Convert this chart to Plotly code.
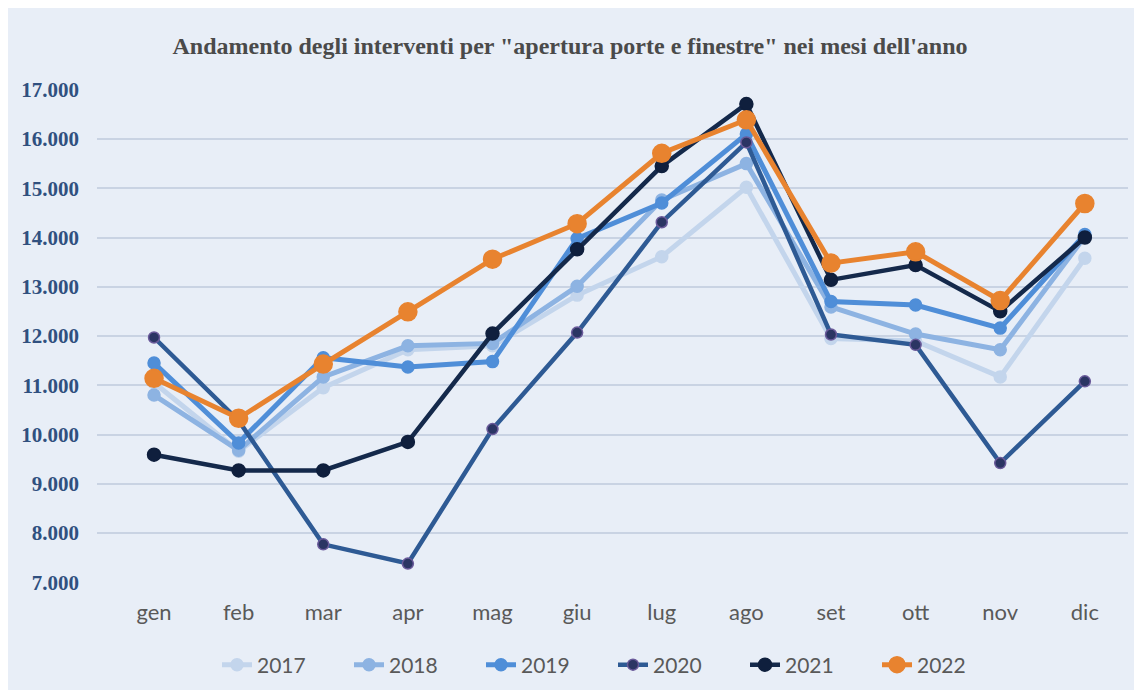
import plotly.graph_objects as go

months = ["gen", "feb", "mar", "apr", "mag", "giu", "lug", "ago", "set", "ott", "nov", "dic"]
years = ["2017", "2018", "2019", "2020", "2021", "2022"]

v2017 = [11050, 9660, 10950, 11720, 11800, 12830, 13610, 15020, 11950, 11900, 11170, 13580]
v2018 = [10800, 9680, 11170, 11800, 11850, 13010, 14760, 15500, 12590, 12040, 11720, 14020]
v2019 = [11450, 9830, 11560, 11370, 11480, 13980, 14700, 16100, 12700, 12630, 12160, 14060]
v2020 = [11970, 10280, 7770, 7380, 10110, 12070, 14310, 15930, 12030, 11820, 9420, 11080]
v2021 = [9590, 9270, 9270, 9850, 12050, 13760, 15450, 16710, 13140, 13440, 12500, 14000]
v2022 = [11140, 10330, 11430, 12490, 13560, 14280, 15710, 16390, 13480, 13710, 12720, 14690]

ytick_vals = [7000, 8000, 9000, 10000, 11000, 12000, 13000, 14000, 15000, 16000, 17000]
ytick_text = ["7.000", "8.000", "9.000", "10.000", "11.000", "12.000", "13.000",
              "14.000", "15.000", "16.000", "17.000"]

title_text = 'Andamento degli interventi per "apertura porte e finestre" nei mesi dell\'anno'

series = [v2017, v2018, v2019, v2020, v2021, v2022]
line_colors = ["#C3D5EC", "#8DB3E2", "#4F8ED8", "#2E5A94", "#14294B", "#E8832F"]
marker_colors = ["#C3D5EC", "#8DB3E2", "#4F8ED8", "#2B3563", "#0F1F3D", "#E8832F"]
marker_line = ["#C3D5EC", "#8DB3E2", "#4F8ED8", "#6A5A9A", "#0F1F3D", "#E8832F"]
marker_sizes = [12, 12, 12, 11, 13, 18]
line_widths = [5, 5, 5, 4.5, 4.5, 5]

BG = "#E8EEF7"

fig = go.Figure()
for i, name in enumerate(years):
    fig.add_trace(go.Scatter(
        x=list(range(len(months))), y=series[i], name=name,
        mode="lines+markers",
        line=dict(color=line_colors[i], width=line_widths[i]),
        marker=dict(color=marker_colors[i], size=marker_sizes[i],
                    line=dict(color=marker_line[i], width=1.5)),
    ))

W, H = 1134, 682
L, R, T, B = 89, 1120, 81, 575

fig.update_layout(
    width=W, height=H,
    margin=dict(l=L, r=W - R, t=T, b=H - B, pad=0),
    paper_bgcolor=BG, plot_bgcolor=BG,
    title=dict(text=title_text, x=562 / W, xref="container", xanchor="center",
               y=1 - 38 / H, yref="container", yanchor="middle",
               font=dict(family="Liberation Serif", size=24, color="#4A4A4A", weight="bold")),
    xaxis=dict(tickmode="array", tickvals=list(range(12)), ticktext=months,
               range=[-0.674, 11.51], showgrid=False, zeroline=False, showline=False,
               ticks="", ticklabelstandoff=14,
               tickfont=dict(family="Lato", size=22, color="#595959")),
    yaxis=dict(tickmode="array", tickvals=ytick_vals, ticktext=ytick_text,
               range=[6985, 17015], showgrid=True, gridcolor="#C9D3E3", gridwidth=2,
               zeroline=False, showline=False, ticks="", ticklabelstandoff=17,
               tickfont=dict(family="Liberation Serif", size=21, color="#30507F", weight="bold")),
    legend=dict(orientation="h", x=0.5 + 38 / W, xanchor="center", xref="container",
                y=1 - 657 / H, yref="container",
                yanchor="middle", bgcolor="rgba(0,0,0,0)", entrywidth=87,
                font=dict(family="Lato", size=21, color="#595959")),
    showlegend=True,
)

fig.write_html("out.html")
